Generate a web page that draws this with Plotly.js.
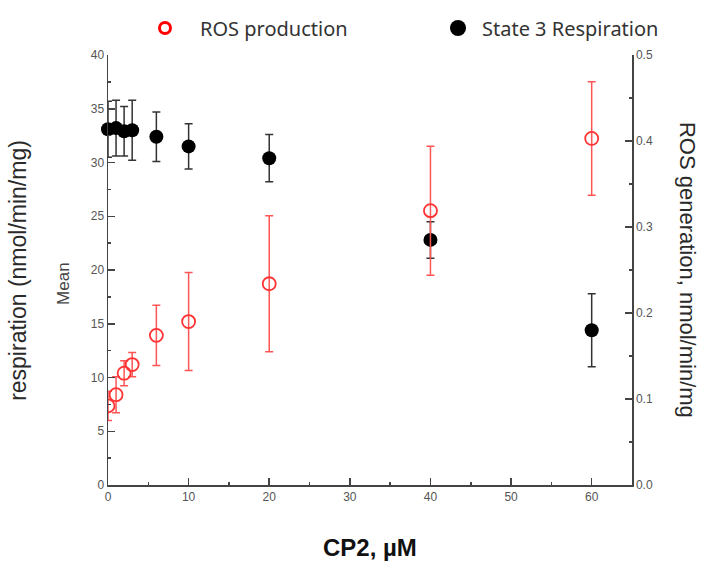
<!DOCTYPE html>
<html><head><meta charset="utf-8">
<script src="https://cdn.plot.ly/plotly-3.0.1.min.js"></script>
<style>html,body{margin:0;padding:0;background:#fff}</style>
</head><body>
<div id="chart" style="width:702px;height:565px"></div>
<script>
// CP2 concentrations (µM)
var cp2 = [0, 1, 2, 3, 6, 10, 20, 40, 60];
// State 3 respiration (nmol/min/mg), left axis
var respMean = [33.1, 33.2, 32.9, 33.0, 32.4, 31.5, 30.4, 22.8, 14.4];
var respErr  = [2.6, 2.6, 2.3, 2.8, 2.3, 2.1, 2.2, 1.7, 3.4];
// ROS generation (nmol/min/mg), right axis
var rosMean = [0.092, 0.105, 0.130, 0.140, 0.174, 0.190, 0.234, 0.319, 0.403];
var rosErr  = [0.017, 0.021, 0.0145, 0.014, 0.035, 0.057, 0.079, 0.075, 0.066];
var seriesNames = ['ROS production', 'State 3 Respiration'];

var tickFont = {family: 'Arial, Liberation Sans, sans-serif', size: 12, color: '#555'};
var ax = {showgrid: false, zeroline: false, showline: true, linecolor: '#444', linewidth: 1.5,
  ticks: 'inside', tickcolor: '#444', ticklen: 7, tickwidth: 1.5, tickfont: tickFont, fixedrange: true};
function merge(a, b) { var o = {}; for (var k in a) o[k] = a[k]; for (var k2 in b) o[k2] = b[k2]; return o; }
var minor = function (d) { return {dtick: d, ticks: 'inside', ticklen: 3, tickcolor: '#444', tickwidth: 1.5}; };

var traces = [
  {
    x: cp2, y: rosMean, yaxis: 'y2', name: seriesNames[0], type: 'scatter', mode: 'markers', showlegend: false,
    marker: {symbol: 'circle-open', size: 13, color: '#ff3333', line: {width: 1.8, color: '#ff3333'}},
    error_y: {type: 'data', array: rosErr, visible: true, color: '#ff5555', thickness: 1.5, width: 4},
    cliponaxis: true
  },
  {
    x: cp2, y: respMean, yaxis: 'y', name: seriesNames[1], type: 'scatter', mode: 'markers', showlegend: false,
    marker: {symbol: 'circle', size: 14, color: '#000'},
    error_y: {type: 'data', array: respErr, visible: true, color: '#333', thickness: 1.5, width: 4},
    cliponaxis: false
  },
  // legend keys (styled like the reference key)
  {
    x: [null], y: [null], name: seriesNames[0], type: 'scatter', mode: 'markers', legend: 'legend',
    marker: {symbol: 'circle-open', size: 11, color: '#ff0000', line: {width: 3, color: '#ff0000'}}
  },
  {
    x: [null], y: [null], name: seriesNames[1], type: 'scatter', mode: 'markers', legend: 'legend2',
    marker: {symbol: 'circle', size: 17, color: '#000'}
  }
];

var legendFont = {family: 'Noto Sans, Open Sans, sans-serif', size: 20, color: '#333'};
var layout = {
  width: 702, height: 565,
  margin: {l: 108, r: 70, t: 55, b: 80, autoexpand: false},
  paper_bgcolor: '#fff', plot_bgcolor: '#fff',
  font: {family: 'Arial, Liberation Sans, sans-serif', color: '#333'},
  showlegend: true,
  legend: {orientation: 'h', xref: 'container', yref: 'container', x: 130 / 702, y: 1 - 28 / 565,
    yanchor: 'middle', xanchor: 'left', font: legendFont, itemwidth: 60, bgcolor: 'rgba(0,0,0,0)'},
  legend2: {orientation: 'h', xref: 'container', yref: 'container', x: 434 / 702, y: 1 - 28 / 565,
    yanchor: 'middle', xanchor: 'left', font: legendFont, itemwidth: 38, bgcolor: 'rgba(0,0,0,0)'},
  xaxis: merge(ax, {range: [0, 65], dtick: 10, tick0: 0, minor: minor(5)}),
  yaxis: merge(ax, {range: [0, 40], dtick: 5, tick0: 0, minor: minor(2.5)}),
  yaxis2: merge(ax, {range: [0, 0.5], overlaying: 'y', side: 'right', dtick: 0.1, tick0: 0,
    tickformat: '.1f', minor: minor(0.05)}),
  annotations: [
    {text: 'respiration (nmol/min/mg)', xref: 'paper', yref: 'paper', x: -0.172, y: 0.5,
     xanchor: 'center', yanchor: 'middle',
     textangle: -90, showarrow: false, font: {size: 23, color: '#2a2a2a', family: 'Arial, Liberation Sans, sans-serif'}},
    {text: 'Mean', xref: 'paper', yref: 'paper', x: -0.084, y: 0.47, xanchor: 'center', yanchor: 'middle',
     textangle: -90, showarrow: false, font: {size: 17, color: '#444', family: 'Arial, Liberation Sans, sans-serif'}},
    {text: 'ROS generation, nmol/min/mg', xref: 'paper', yref: 'paper', x: 1.107, y: 0.5,
     xanchor: 'center', yanchor: 'middle',
     textangle: 90, showarrow: false, font: {size: 22, color: '#2a2a2a', family: 'Arial, Liberation Sans, sans-serif'}},
    {text: '<b>CP2, µM</b>', xref: 'paper', yref: 'paper', x: 0.5, y: -0.145, xanchor: 'center', yanchor: 'middle',
     showarrow: false, font: {size: 24, color: '#111', family: 'Arial, Liberation Sans, sans-serif'}}
  ]
};

Plotly.newPlot('chart', traces, layout, {displayModeBar: false, staticPlot: true});
</script>
</body></html>
